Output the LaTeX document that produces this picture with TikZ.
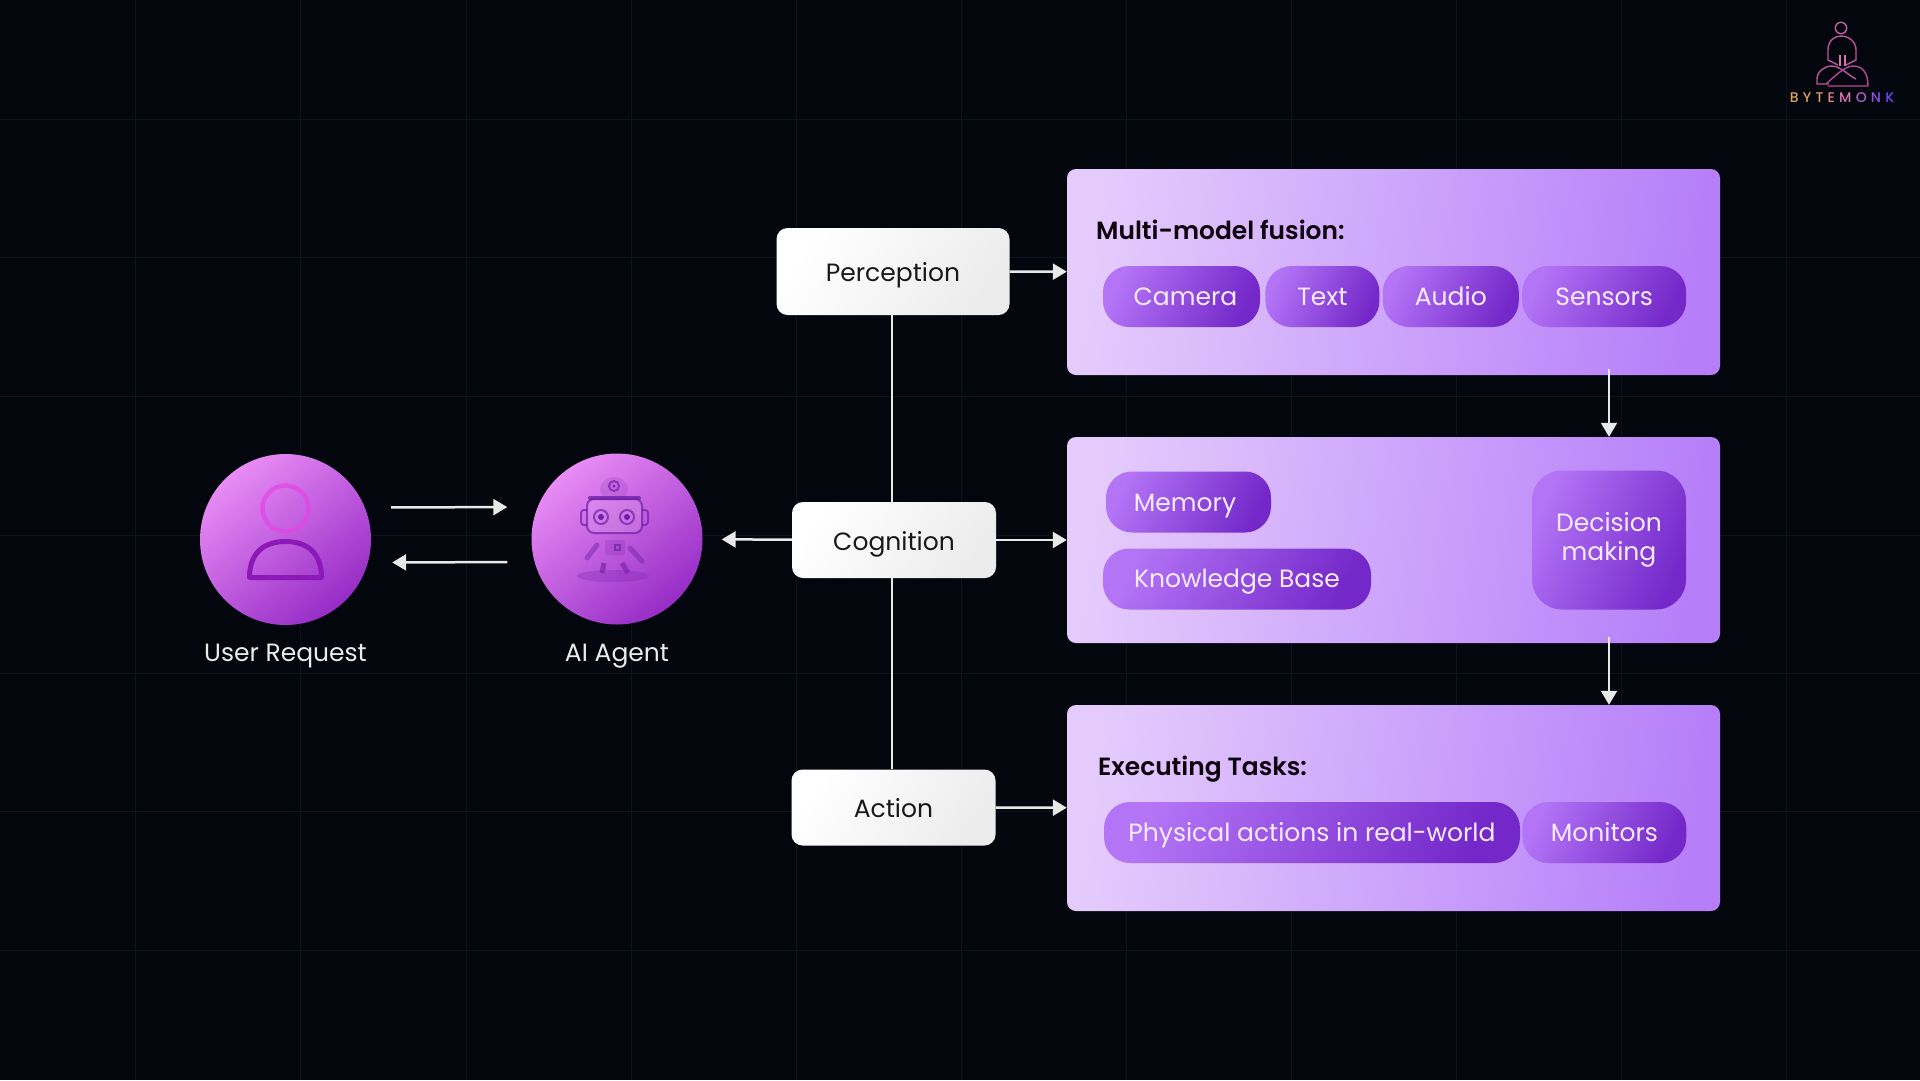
\documentclass[tikz,border=0pt]{standalone}
\usepackage{fontspec}
\usepackage{xcolor}
\usetikzlibrary{arrows.meta,positioning,shapes}
\setmainfont{Poppins}
\newfontfamily\popsemi{Poppins SemiBold}
\newfontfamily\logofont{Poppins Medium}
\definecolor{bgdark}{HTML}{03070D}
\definecolor{gridline}{HTML}{0C1319}
\definecolor{wireline}{HTML}{E8E8E8}
\definecolor{inkpurple}{HTML}{6E1FA6}
\definecolor{lavL}{HTML}{E4CBFC}
\definecolor{lavR}{HTML}{B67FF9}
\definecolor{chipL}{HTML}{B374F6}
\definecolor{chipR}{HTML}{7428C9}
\definecolor{chiptext}{HTML}{F6EAFF}
\definecolor{orbL}{HTML}{E98CF5}
\definecolor{orbR}{HTML}{962CC6}
\definecolor{logopink}{HTML}{D878A8}
\newcommand{\sz}[1]{\fontsize{#1}{1.2\dimexpr#1\relax}\selectfont}
\newcommand{\lgl}[2]{\kern4.2pt\textcolor[HTML]{#1}{#2}}
\tikzset{
  step box/.style={rectangle,rounded corners=11pt,left color=white,right color=white!85!gray,
    shading angle=55,text=black!90,font=\sz{25pt},text height=20pt,text depth=0pt},
  panel/.style={rectangle,rounded corners=9pt,minimum width=653pt,minimum height=206pt,inner sep=0pt,
    left color=lavL,right color=lavR,shading angle=82},
  chip/.style={rectangle,rounded corners=26pt,minimum height=61pt,inner sep=0pt,
    left color=chipL,right color=chipR,shading angle=65,text=chiptext,font=\sz{25pt},
    text height=18pt,text depth=0pt},
  orb/.style={circle,minimum size=171pt,inner sep=0pt,left color=orbL,right color=orbR,shading angle=40},
  orblabel/.style={text=white!92!black,font=\sz{25pt},inner sep=0pt},
  hd/.style={text=black!90!violet,font=\sz{24.9pt}\popsemi,inner sep=0pt,anchor=west,text height=18pt,text depth=0pt},
  wire/.style={draw=wireline,line width=2.2pt},
  arr/.style={wire,line width=2.5pt,-{Triangle[length=14pt,width=16pt]}},
  ink/.style={draw=inkpurple,line width=2pt,opacity=.7},
}
\begin{document}
\begin{tikzpicture}[x=1pt,y=-1pt]
  \fill[bgdark] (0,0) rectangle (1920,1080);
  \useasboundingbox (0,0) rectangle (1920,1080);
  \foreach \gx in {135,300,466,631,796,961,1126,1291,1456,1621,1786}
    \draw[gridline,line width=1pt] (\gx,0) -- (\gx,1080);
  \foreach \gy in {119,257,396,535,673,811,950}
    \draw[gridline,line width=1pt] (0,\gy) -- (1920,\gy);

  % left side
  \node[orb] (user) at (285.5,539.5) {};
  \node[orb] (agent) at (617,539) {};
  \node[orblabel,below=19pt of user] (userlabel) {User Request};
  \node[orblabel,below=19pt of agent] (agentlabel) {AI Agent};

  % the three steps
  \node[step box,minimum width=233pt,minimum height=87pt] (perception) at (893,271.5) {Perception};
  \node[step box,minimum width=204pt,minimum height=76pt] (cognition) at (894,540) {Cognition};
  \node[step box,minimum width=204pt,minimum height=76pt] (action) at (893.5,807.5) {Action};

  % panels
  \node[panel] (fusionbox) at (1393.5,272) {};
  \node[panel] (thinkbox) at (1393.5,540) {};
  \node[panel] (taskbox) at (1393.5,808) {};

  \node[hd] (fusionhd) at (1096,230) {Multi-model fusion:};
  \node[chip,minimum width=157pt] (camera) at (1181.5,296.5) {\hspace*{8pt}Camera};
  \node[chip,minimum width=114pt,right=5pt of camera] (text) {Text};
  \node[chip,minimum width=136pt,right=3pt of text] (audio) {Audio};
  \node[chip,minimum width=164pt,right=3pt of audio] (sensors) {Sensors};

  \node[chip,minimum width=165pt] (memory) at (1188.5,502) {Memory\hspace*{7pt}};
  \node[chip,minimum width=268pt,text height=17pt] (knowledge) at (1237,579) {Knowledge Base};
  \node[chip,minimum width=154pt,minimum height=139pt,rounded corners=30pt,align=center,text height=,text depth=] (decision) at (1609,540) {Decision\\[-1pt]making};

  \node[hd] (taskhd) at (1098,766) {Executing Tasks:};
  \node[chip,minimum width=416pt] (physical) at (1312,832.5) {Physical actions in real-world};
  \node[chip,minimum width=164pt,right=2pt of physical] (monitors) {Monitors};

  % connectors
  \draw[wire] ([xshift=-1pt]perception.south) -- ([xshift=-1pt]perception.south |- cognition.north);
  \draw[wire] ([xshift=-1pt]perception.south |- cognition.south) -- ([xshift=-1pt]perception.south |- action.north);
  \draw[arr] (perception) -- (fusionbox);
  \draw[arr] (cognition) -- (thinkbox);
  \draw[arr] (action) -- (taskbox);
  \draw[arr,shorten >=19pt] (cognition) -- (agent);
  \draw[arr,shorten <=20pt,shorten >=24pt] ([yshift=32pt]user.east) -- ([yshift=32pt]agent.west);
  \draw[arr,shorten <=24pt,shorten >=21pt] ([yshift=-23pt]agent.west) -- ([yshift=-23pt]user.east);
  \draw[arr,line width=2pt] ([yshift=6pt]fusionbox.south -| decision) -- (thinkbox.north -| decision);
  \draw[arr,line width=2pt] ([yshift=6pt]thinkbox.south -| decision) -- (taskbox.north -| decision);

  % person
  \begin{scope}[shift={(user.center)}]
    \draw[draw=orbL!60!magenta!85!violet,line width=4.5pt,opacity=.75] (0,-31) circle (23pt);
    \draw[draw=inkpurple!80!magenta,line width=5pt,line join=round] (-36,38) -- (36,38) .. controls (36,12) and (20,2) .. (0,2) .. controls (-20,2) and (-36,12) .. (-36,38) -- cycle;
  \end{scope}

  % robot
  \begin{scope}[shift={(agent.center)}]
    \fill[inkpurple,opacity=.25] (-4,37) ellipse (36pt and 6pt);
    \fill[inkpurple,opacity=.15] (-3,-50) ellipse (14pt and 12pt);
    \draw[ink] (-3,-53) circle (5pt);
    \fill[inkpurple] (-3,-53) circle (1.5pt);
    \draw[ink,fill=white,fill opacity=.12,rounded corners=7pt] (-30,-40) rectangle (25,-6);
    \draw[inkpurple,line width=4pt,line cap=round,opacity=.8] (-27,-41) -- (22,-41);
    \draw[ink,rounded corners=3pt] (-30,-29) -- (-36,-29) -- (-36,-14) -- (-30,-14);
    \draw[ink,rounded corners=3pt] (25,-29) -- (31,-29) -- (31,-14) -- (25,-14);
    \foreach \ex in {-16,10} {
      \draw[ink] (\ex,-22) circle (7pt);
      \fill[inkpurple] (\ex,-22) circle (3pt);
    }
    \fill[inkpurple,opacity=.2,rounded corners=2pt] (-12,1) rectangle (8,16);
    \draw[ink] (-2,6) rectangle (3,11);
    \draw[inkpurple,line width=5pt,opacity=.45,line cap=round] (-20,6) -- (-30,19);
    \draw[inkpurple,line width=5pt,opacity=.45,line cap=round] (13,9) -- (25,22);
    \draw[inkpurple,line width=5pt,opacity=.6] (-13,24) -- (-15,34);
    \draw[inkpurple,line width=5pt,opacity=.6] (5,24) -- (11,34);
  \end{scope}

  % logo
  \node[font=\sz{14pt}\logofont,inner sep=0pt] (logotext) at (1842,98) {\textcolor[HTML]{DDA558}{B}\lgl{DCA066}{Y}\lgl{DE9A72}{T}\lgl{E0858C}{E}\lgl{D870B0}{M}\lgl{B45ED2}{O}\lgl{8E50E4}{N}\lgl{7442F0}{K}};
  \begin{scope}[line width=1.4pt]
    \draw[logopink!80!violet] (1841,28) circle (5.7pt);
    \draw[logopink!70!violet] (1838,65) -- (1828,60) -- (1828,50) .. controls (1828,41) and (1834,36) .. (1841,36) .. controls (1848,36) and (1856,41) .. (1856,50) -- (1856,60) -- (1846,65);
    \draw[logopink] (1840,55) -- (1840,66) (1845,55) -- (1845,66);
    \draw[logopink!70!violet] (1829,84) -- (1817,84) -- (1817,79) .. controls (1817,71) and (1825,66) .. (1832,66) .. controls (1840,66) and (1848,75) .. (1856,79);
    \draw[logopink!60!violet] (1868,86) -- (1828,86) (1868,86) .. controls (1868,72) and (1862,66) .. (1853,66) .. controls (1845,66) and (1835,76) .. (1826,84);
  \end{scope}
\end{tikzpicture}
\end{document}
